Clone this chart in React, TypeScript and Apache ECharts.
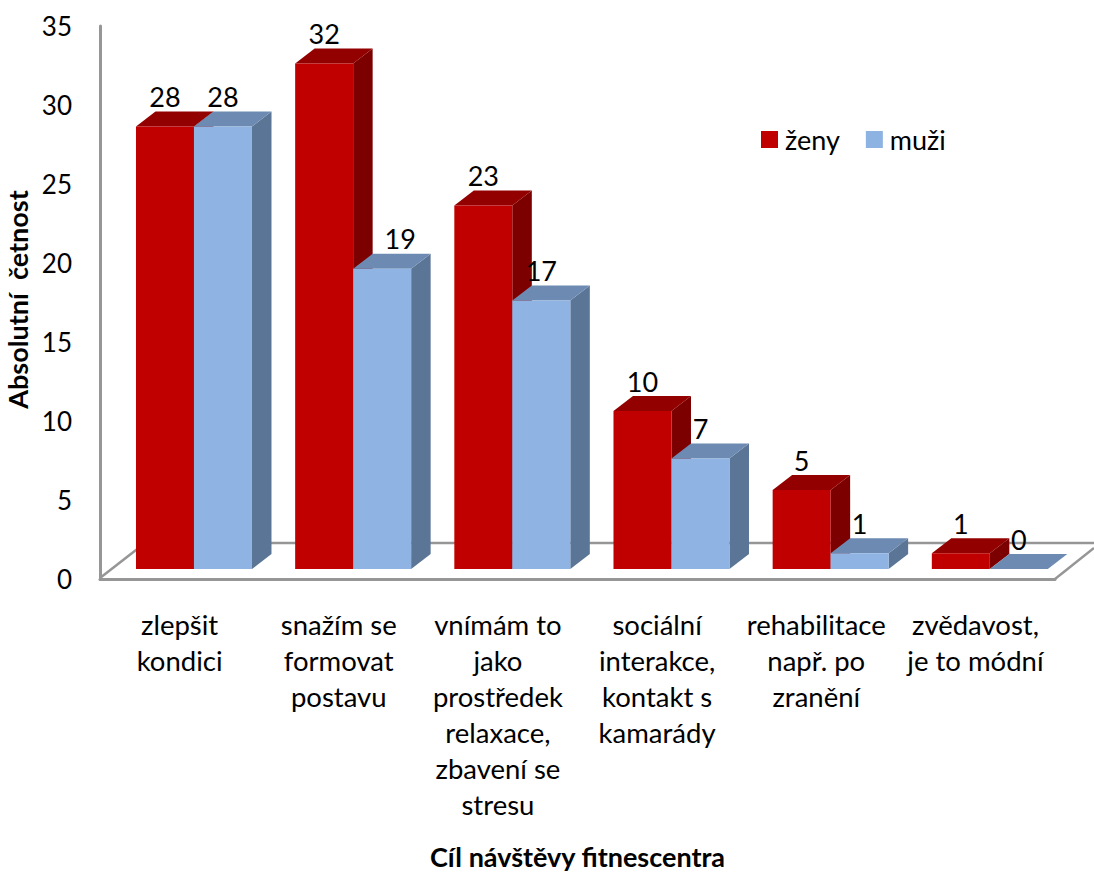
import React, { useEffect, useRef } from "react";
import * as echarts from "echarts";

const categories = [
  "zlepšit\nkondici",
  "snažím se\nformovat\npostavu",
  "vnímám to\njako\nprostředek\nrelaxace,\nzbavení se\nstresu",
  "sociální\ninterakce,\nkontakt s\nkamarády",
  "rehabilitace\nnapř. po\nzranění",
  "zvědavost,\nje to módní",
];
const zeny = [28, 32, 23, 10, 5, 1];
const muzi = [28, 19, 17, 7, 1, 0];
const yTicks = { min: 0, max: 35, interval: 5 };
const FONT = "Lato, Carlito, 'Noto Sans', sans-serif";

const GRID = { left: 100, top: 26, width: 955, height: 553 };
const OFFSET_Y = -10;
const GROUP_DX = 14.4;
const BAR_W = 58;
const DEPTH_X = 19.5;
const DEPTH_Y = 15;

function barRenderer(
  side: "left" | "right",
  colors: { front: string; top: string; side: string },
  labelShiftAt: number = -1,
) {
  return (params: any, api: any) => {
    const idx = api.value(0);
    const val = api.value(1);
    const base = api.coord([idx, 0]);
    const top = api.coord([idx, val]);
    const cx = base[0] + GROUP_DX;
    const x0 = side === "left" ? cx - BAR_W : cx;
    const x1 = x0 + BAR_W;
    const yb = base[1] + OFFSET_Y;
    const yt = top[1] + OFFSET_Y;
    const poly = (pts: number[][], fill: string) => ({
      type: "polygon",
      shape: { points: pts },
      style: { fill },
    });
    const children: any[] = [
      poly([[x1, yb], [x1 + DEPTH_X, yb - DEPTH_Y], [x1 + DEPTH_X, yt - DEPTH_Y], [x1, yt]], colors.side),
      poly([[x0, yt], [x0 + DEPTH_X, yt - DEPTH_Y], [x1 + DEPTH_X, yt - DEPTH_Y], [x1, yt]], colors.top),
    ];
    if (val > 0) {
      children.push({
        type: "rect",
        shape: { x: x0, y: yt, width: BAR_W, height: yb - yt },
        style: { fill: colors.front },
      });
    }
    children.push({
      type: "text",
      z2: 50,
      style: {
        text: String(val),
        x: (x0 + x1) / 2 + (idx === labelShiftAt ? 18 : 0),
        y: yt - 30,
        align: "center",
        verticalAlign: "middle",
        fill: "#000000",
        font: `27px ${FONT}`,
      },
    });
    return { type: "group", children };
  };
}

const toData = (vals: number[]) => vals.map((v, i) => [i, v]);

export default function App() {
  const ref = useRef<HTMLDivElement>(null);
  useEffect(() => {
    const chart = echarts.init(ref.current!, undefined, { renderer: "svg" });
    const LINE = "#969696";
    chart.setOption({
      animation: false,
      backgroundColor: "#ffffff",
      textStyle: { fontFamily: FONT },
      grid: { ...GRID, containLabel: false, outerBoundsMode: "none" },
      legend: {
        show: true,
        left: 756,
        top: 121,
        orient: "horizontal",
        itemWidth: 17,
        itemHeight: 17,
        itemGap: 26,
        icon: "rect",
        data: ["ženy", "muži"],
        textStyle: { fontFamily: FONT, fontSize: 27, color: "#000000", padding: [0, 0, 0, 2] },
      },
      xAxis: {
        type: "category",
        data: categories,
        name: "Cíl návštěvy fitnescentra",
        nameLocation: "middle",
        nameGap: 266,
        nameTextStyle: { fontFamily: FONT, fontSize: 27, fontWeight: "bold", color: "#000000", lineHeight: 22 },
        axisTick: { show: false },
        axisLine: { lineStyle: { color: LINE, width: 3 } },
        axisLabel: {
          interval: 0,
          margin: 27,
          fontFamily: FONT,
          fontSize: 27.5,
          lineHeight: 36,
          color: "#000000",
          verticalAlign: "top",
        },
      },
      yAxis: {
        type: "value",
        ...yTicks,
        name: "Absolutní  četnost",
        nameLocation: "middle",
        nameGap: 61,
        nameRotate: 90,
        nameTextStyle: { fontFamily: FONT, fontSize: 27, fontWeight: "bold", color: "#000000", padding: [0, 0, 0, 6] },
        splitLine: { show: false },
        axisTick: { show: false },
        axisLine: { show: true, lineStyle: { color: LINE, width: 3 } },
        axisLabel: { margin: 28, fontFamily: FONT, fontSize: 26, color: "#000000" },
      },
      graphic: [
        {
          type: "line",
          z: 0,
          shape: { x1: 100, y1: 578, x2: 145, y2: 543 },
          style: { stroke: LINE, lineWidth: 2.5 },
        },
        {
          type: "line",
          z: 0,
          shape: { x1: 145, y1: 543, x2: 1094, y2: 543 },
          style: { stroke: LINE, lineWidth: 2.5 },
        },
        {
          type: "line",
          z: 0,
          shape: { x1: 1055, y1: 579, x2: 1094, y2: 548 },
          style: { stroke: LINE, lineWidth: 2.5 },
        },
      ],
      series: [
        {
          type: "custom",
          name: "ženy",
          z: 3,
          itemStyle: { color: "#C00000" },
          data: toData(zeny),
          encode: { x: 0, y: 1 },
          clip: false,
          renderItem: barRenderer("left", { front: "#C00000", top: "#930000", side: "#7C0000" }),
        },
        {
          type: "custom",
          name: "muži",
          z: 4,
          itemStyle: { color: "#8DB3E2" },
          data: toData(muzi),
          encode: { x: 0, y: 1 },
          clip: false,
          renderItem: barRenderer("right", { front: "#8FB4E3", top: "#6D8BB2", side: "#5B7596" }, 1),
        },
      ],
    });
    return () => chart.dispose();
  }, []);
  return (
    <div
      ref={ref}
      style={{ position: "absolute", left: 0, top: 0, width: 1094, height: 874, overflow: "hidden" }}
    />
  );
}
